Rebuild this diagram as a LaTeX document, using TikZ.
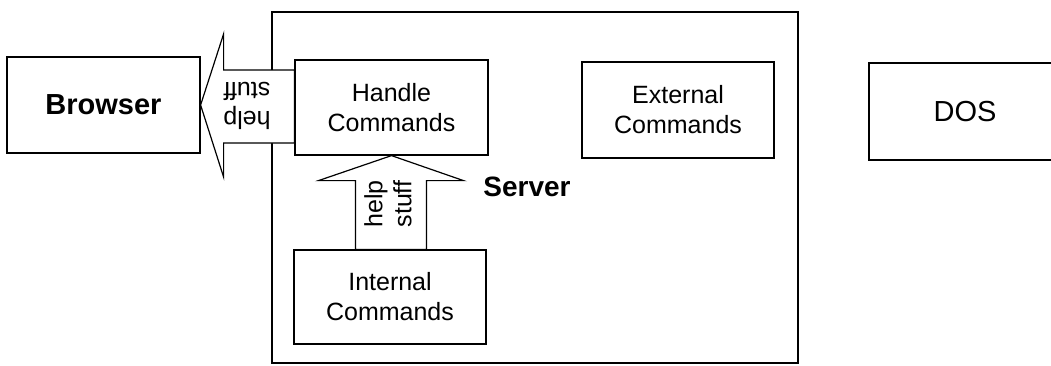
\documentclass[tikz,border=0pt]{standalone}
\usepackage{fontspec}
\setmainfont{Liberation Sans}
\usetikzlibrary{calc}
\begin{document}
\begin{tikzpicture}[x=1pt,y=-1pt,
  line width=1.2pt,
  box/.style={draw,fill=white,rectangle,inner sep=0pt,align=center,
    font=\fontsize{25}{30}\selectfont},
  bigbox/.style={box,font=\fontsize{29}{34}\selectfont\bfseries},
  blockarrow/.style={draw,fill=white,line join=miter},
  arrowtext/.style={align=center,inner sep=0pt,font=\fontsize{25}{29}\selectfont}]
\useasboundingbox (0,0) rectangle (1051,365);

% server container
\node[draw,rectangle,minimum width=526pt,minimum height=351pt,inner sep=0pt]
  (server) at (535,187.5) {};
\node[font=\fontsize{28}{32}\selectfont\bfseries,inner sep=0pt] (srvlabel) at (527,187) {Server};

% component boxes
\node[bigbox,minimum width=193pt,minimum height=96pt] (browser) at (103.5,105) {Browser};
\node[box,minimum width=193pt,minimum height=95pt] (handle) at (391.5,107.5) {Handle\\Commands};
\node[box,minimum width=192pt,minimum height=96pt] (external) at (678,110) {External\\Commands};
\node[box,minimum width=192pt,minimum height=94pt] (internal) at (390,297) {Internal\\Commands};
\node[bigbox,font=\fontsize{29}{34}\selectfont,minimum width=192pt,minimum height=97pt] (dos) at (965,111.5) {DOS};

% block arrow: Handle Commands -> Browser
\path (browser.east) ++(23,0) coordinate (lh);
\draw[blockarrow] (browser.east) -- ($(lh)+(0,-71)$) -- ($(lh)+(0,-35)$)
  -- ($(handle.west |- lh)+(0,-35)$) -- ($(handle.west |- lh)+(0,38)$)
  -- ($(lh)+(0,38)$) -- ($(lh)+(0,72)$) -- cycle;
\node[arrowtext,rotate=180] (ltext) at (247,106) {help\\stuff};

% block arrow: Internal Commands -> Handle Commands
\path (handle.south) ++(0,25) coordinate (uh);
\draw[blockarrow] (handle.south) -- ($(uh)+(72,0)$) -- ($(uh)+(35,0)$)
  -- ($(internal.north -| uh)+(35,0)$) -- ($(internal.north -| uh)+(-36,0)$)
  -- ($(uh)+(-36,0)$) -- ($(uh)+(-73,0)$) -- cycle;
\node[arrowtext,rotate=90] (utext) at (388,204) {help\\stuff};
\end{tikzpicture}
\end{document}
